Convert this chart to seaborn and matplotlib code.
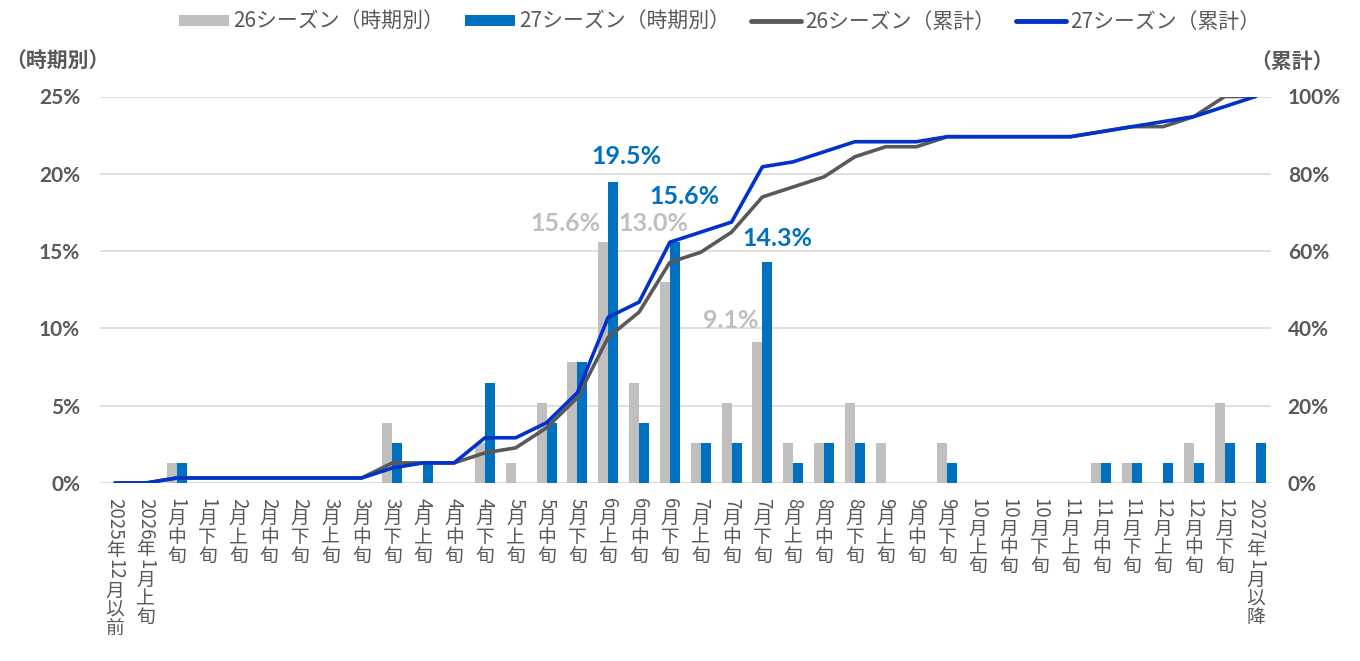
import re
import numpy as np
import pandas as pd
import matplotlib
matplotlib.use("Agg")
import matplotlib.pyplot as plt
from matplotlib.lines import Line2D
from matplotlib.patches import Patch
import seaborn as sns

# --- DATA ---
CATEGORIES = [
    "2025年12月以前", "2026年1月上旬", "1月中旬", "1月下旬",
    "2月上旬", "2月中旬", "2月下旬", "3月上旬", "3月中旬", "3月下旬",
    "4月上旬", "4月中旬", "4月下旬", "5月上旬", "5月中旬", "5月下旬",
    "6月上旬", "6月中旬", "6月下旬", "7月上旬", "7月中旬", "7月下旬",
    "8月上旬", "8月中旬", "8月下旬", "9月上旬", "9月中旬", "9月下旬",
    "10月上旬", "10月中旬", "10月下旬", "11月上旬", "11月中旬", "11月下旬",
    "12月上旬", "12月中旬", "12月下旬", "2027年1月以降",
]

S26_PERIOD = [0, 0, 1.3, 0, 0, 0, 0, 0, 0, 3.9, 0, 0, 2.6, 1.3, 5.2, 7.8,
              15.6, 6.5, 13.0, 2.6, 5.2, 9.1, 2.6, 2.6, 5.2, 2.6, 0, 2.6,
              0, 0, 0, 0, 1.3, 1.3, 0, 2.6, 5.2, 0]
S27_PERIOD = [0, 0, 1.3, 0, 0, 0, 0, 0, 0, 2.6, 1.3, 0, 6.5, 0, 3.9, 7.8,
              19.5, 3.9, 15.6, 2.6, 2.6, 14.3, 1.3, 2.6, 2.6, 0, 0, 1.3,
              0, 0, 0, 0, 1.3, 1.3, 1.3, 1.3, 2.6, 2.6]

S26_CUM = [0, 0, 1.3, 1.3, 1.3, 1.3, 1.3, 1.3, 1.3, 5.2, 5.2, 5.2, 7.8, 9.1,
           14.3, 22.1, 37.7, 44.2, 57.1, 59.7, 64.9, 74.0, 76.6, 79.2, 84.4,
           87.0, 87.0, 89.6, 89.6, 89.6, 89.6, 89.6, 90.9, 92.2, 92.2, 94.8,
           100, 100]
S27_CUM = [0, 0, 1.3, 1.3, 1.3, 1.3, 1.3, 1.3, 1.3, 3.9, 5.2, 5.2, 11.7, 11.7,
           15.6, 23.4, 42.9, 46.8, 62.3, 64.9, 67.5, 81.8, 83.1, 85.7, 88.3,
           88.3, 88.3, 89.6, 89.6, 89.6, 89.6, 89.6, 90.9, 92.2, 93.5, 94.8,
           97.4, 100]

SERIES_NAMES = ["26シーズン（時期別）", "27シーズン（時期別）",
                "26シーズン（累計）", "27シーズン（累計）"]

# highlighted bar values: (series, category index)
CALLOUTS = [("27", 16), ("26", 16), ("26", 18), ("27", 18), ("26", 21), ("27", 21)]

# --- STYLE ---
GRAY_BAR = "#BFBFBF"
BLUE_BAR = "#0070C0"
GRAY_LINE = "#595959"
BLUE_LINE = "#0033CC"
TEXT = "#595959"
GRID = "#D9D9D9"
JP = ["Noto Sans CJK JP", "DejaVu Sans"]
NUM = ["Lato", "Noto Sans CJK JP"]

sns.set_theme(style="white")
plt.rcParams["font.family"] = JP

fig = plt.figure(figsize=(13.6, 6.61), dpi=100)
ax = fig.add_axes([99.6 / 1360, 1 - 483 / 661, (1271 - 99.6) / 1360, (483 - 96.5) / 661])

df = pd.DataFrame({
    "period": CATEGORIES * 2,
    "season": [SERIES_NAMES[0]] * len(CATEGORIES) + [SERIES_NAMES[1]] * len(CATEGORIES),
    "value": S26_PERIOD + S27_PERIOD,
})
sns.barplot(data=df, x="period", y="value", hue="season", order=CATEGORIES,
            hue_order=SERIES_NAMES[:2], palette=[GRAY_BAR, BLUE_BAR],
            width=0.65, gap=0, saturation=1, linewidth=0, legend=False, ax=ax)

ax.set_ylim(0, 25)
ax.set_xlim(-0.5, len(CATEGORIES) - 0.5)
ax.set_yticks(np.arange(0, 26, 5))
ax.set_yticklabels([f"{v}%" for v in range(0, 26, 5)])
ax.yaxis.grid(True, color=GRID, lw=1.2)
ax.set_axisbelow(True)
for s in ax.spines.values():
    s.set_visible(False)
ax.set_xlabel("")
ax.set_ylabel("")
ax.set_xticks(range(len(CATEGORIES)))
ax.set_xticklabels([])
ax.tick_params(axis="both", length=0)
ax.tick_params(axis="y", pad=14)
for lab in ax.get_yticklabels():
    lab.set_fontfamily(NUM)
    lab.set_fontweight("bold")
    lab.set_fontsize(15)
    lab.set_color(TEXT)

# cumulative lines on right axis
ax2 = ax.twinx()
xs = np.arange(len(CATEGORIES))
sns.lineplot(x=xs, y=S26_CUM, ax=ax2, color=GRAY_LINE, lw=2.6)
sns.lineplot(x=xs, y=S27_CUM, ax=ax2, color=BLUE_LINE, lw=2.6)
ax2.set_ylim(0, 100)
ax2.set_xlim(-0.5, len(CATEGORIES) - 0.5)
ax2.set_yticks(np.arange(0, 101, 20))
ax2.set_yticklabels([f"{v}%" for v in range(0, 101, 20)])
ax2.grid(False)
for s in ax2.spines.values():
    s.set_visible(False)
ax2.tick_params(axis="both", length=0)
ax2.tick_params(axis="y", pad=12)
for lab in ax2.get_yticklabels():
    lab.set_fontfamily(NUM)
    lab.set_fontweight("bold")
    lab.set_fontsize(15)
    lab.set_color(TEXT)

# callout labels for the peak bars (offsets in points from category centre / bar top)
offsets = {
    ("27", 16): (13, 18), ("26", 16): (-30.6, 13),
    ("26", 18): (-12.2, 41.8), ("27", 18): (10.8, 32.4),
    ("26", 21): (-22.7, 15.5), ("27", 21): (11.2, 16.6),
}
for series, i in CALLOUTS:
    vals = S26_PERIOD if series == "26" else S27_PERIOD
    color = GRAY_BAR if series == "26" else BLUE_BAR
    ax2.annotate(f"{vals[i]:.1f}%", xy=(i, vals[i]), xycoords=ax.transData,
                 xytext=offsets[(series, i)], textcoords="offset points",
                 ha="center", va="center", fontsize=18, fontweight="bold",
                 color=color, family=NUM)

# vertical (tategaki) category labels: digits sideways, kanji upright
renderer = fig.canvas.get_renderer()
fs = 13.5
for i, label in enumerate(CATEGORIES):
    cursor = 10.5
    for piece in re.findall(r"[0-9]+|.", label):
        if piece.isdigit():
            t = ax.annotate(piece, xy=(i, 0), xycoords=ax.get_xaxis_transform(),
                            xytext=(0, -cursor), textcoords="offset points",
                            rotation=-90, ha="center", va="top",
                            fontsize=fs, color=TEXT, family=JP)
            h = t.get_window_extent(renderer).height * 72 / fig.dpi
            cursor += h + 1.0
        else:
            adv = fs * 1.0
            ax.annotate(piece, xy=(i, 0), xycoords=ax.get_xaxis_transform(),
                        xytext=(0, -(cursor + adv / 2)), textcoords="offset points",
                        ha="center", va="center",
                        fontsize=fs, color=TEXT, family=JP)
            cursor += adv

# axis titles
fig.text(57 / 1360, 1 - 61 / 661, "（時期別）", ha="center", va="center",
         fontsize=15, fontweight="bold", color=TEXT, family=JP)
fig.text(1292 / 1360, 1 - 61 / 661, "（累計）", ha="center", va="center",
         fontsize=15, fontweight="bold", color=TEXT, family=JP)

# legend
handles = [
    Patch(facecolor=GRAY_BAR, edgecolor="none"),
    Patch(facecolor=BLUE_BAR, edgecolor="none"),
    Line2D([], [], color=GRAY_LINE, lw=3.5),
    Line2D([], [], color=BLUE_LINE, lw=3.5),
]
fig.legend(handles, SERIES_NAMES, loc="center", bbox_to_anchor=(720 / 1360, 1 - 22 / 661),
           ncol=4, frameon=False, labelcolor=TEXT,
           handlelength=2.4, handleheight=0.45, handletextpad=0.2, columnspacing=1.0,
           prop={"family": JP, "size": 15})

fig.savefig("out.png", dpi=100)
